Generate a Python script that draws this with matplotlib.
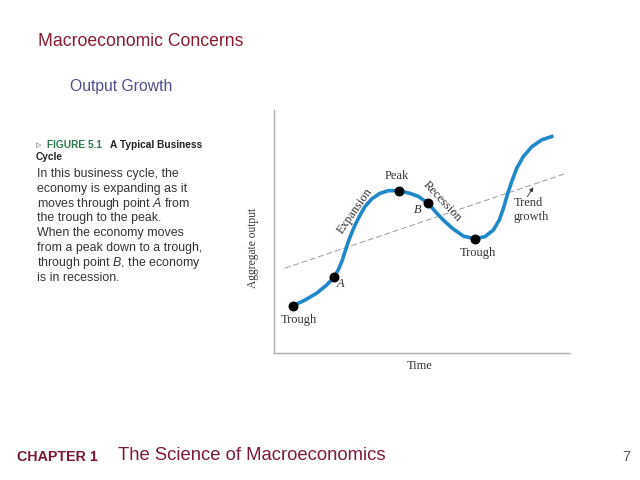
import matplotlib
matplotlib.use("Agg")
import matplotlib.pyplot as plt

plt.rcParams['mathtext.fontset'] = 'custom'
plt.rcParams['mathtext.it'] = 'Liberation Sans:italic'
plt.rcParams['mathtext.rm'] = 'Liberation Sans'

# Business cycle curve (chart units 0-100)
cycle_x = [6.5, 10.5, 14.4, 17.8, 20.3, 21.7, 22.9, 24.0, 25.1, 26.2, 27.4, 29.1, 30.7, 33.0,
           35.8, 38.6, 42.2, 45.9, 48.8, 52.1, 55.0, 57.8, 60.6, 64.0, 67.9, 71.3, 74.1,
           76.1, 77.5, 78.8, 80.3, 82.0, 84.2, 87.1, 90.4, 94.4]
cycle_y = [19.5, 21.8, 24.6, 28.0, 31.2, 34.2, 37.6, 41.7, 45.8, 49.3, 52.7, 56.8, 60.2, 63.4,
           65.7, 66.8, 66.8, 65.7, 64.4, 61.6, 57.5, 54.0, 51.0, 48.1, 47.0, 47.9, 50.6,
           54.7, 59.5, 65.0, 70.5, 76.0, 80.8, 84.9, 87.7, 89.3]

# Marked points: trough, A, peak, B, trough
point_x = [6.5, 20.3, 42.2, 52.1, 67.9]
point_y = [19.5, 31.2, 66.8, 61.6, 47.0]

# Trend growth line
trend_x = [3.7, 98.1]
trend_y = [34.9, 73.7]

body_lines = [
    "In this business cycle, the",
    "economy is expanding as it",
    "moves through point $A$ from",
    "the trough to the peak.",
    "When the economy moves",
    "from a peak down to a trough,",
    "through point $B$, the economy",
    "is in recession.",
]

W, H = 640, 480
fig = plt.figure(figsize=(6.4, 4.8), dpi=100)

def px(x, y):
    return x / W, 1 - y / H

sans = 'Liberation Sans'
serif = 'Liberation Serif'

# Slide titles
fig.text(*px(38, 41), "Macroeconomic Concerns", fontsize=12.7, color='#8b1a30',
         family=sans, va='center', ha='left')
fig.text(*px(70, 87), "Output Growth", fontsize=11.3, color='#4e4e8c',
         family=sans, va='center', ha='left')

# Figure caption header
fig.text(*px(36, 145), "\u25b9", fontsize=8, color='#888888', family='DejaVu Sans',
         va='center', ha='left')
fig.text(*px(47, 145), "FIGURE 5.1", fontsize=7.3, color='#2e7a50', family=sans,
         weight='bold', va='center', ha='left')
fig.text(*px(110, 145), "A Typical Business", fontsize=7.3, color='#222222', family=sans,
         weight='bold', va='center', ha='left')
fig.text(*px(36, 157), "Cycle", fontsize=7.3, color='#222222', family=sans,
         weight='bold', va='center', ha='left')

for i, line in enumerate(body_lines):
    fig.text(*px(37, 174 + i * 14.8), line, fontsize=8.9, color='#333333', family=sans,
             va='center', ha='left')

# Chart
ax = fig.add_axes([274 / W, 1 - 353 / H, 296 / W, 243 / H])
ax.set_xlim(0, 100)
ax.set_ylim(0, 100)
for side in ['top', 'right']:
    ax.spines[side].set_visible(False)
for side in ['left', 'bottom']:
    ax.spines[side].set_color('#b0b0b0')
    ax.spines[side].set_linewidth(1)
ax.set_xticks([])
ax.set_yticks([])
ax.patch.set_alpha(0)

ax.plot(trend_x, trend_y, color='#999999', lw=0.7, dashes=(6, 3))
ax.plot(cycle_x, cycle_y, color='#1f88c8', lw=2.6, solid_joinstyle='round',
        solid_capstyle='butt')
ax.scatter(point_x, point_y, s=38, color='black', zorder=5)

lab = dict(family=serif, fontsize=9, color='#333333', ha='center', va='center')
ax.text(8.5, 13.4, "Trough", **lab)
ax.text(69.0, 41.1, "Trough", **lab)
ax.text(41.5, 72.8, "Peak", **lab)
ax.text(22.6, 28.5, "A", style='italic', **lab)
ax.text(48.5, 58.8, "B", style='italic', **lab)
ax.text(27.4, 58.5, "Expansion", rotation=55, **lab)
ax.text(56.9, 62.3, "Recession", rotation=-47, **lab)
ax.text(80.9, 58.9, "Trend\ngrowth", family=serif, fontsize=9, color='#333333',
        ha='left', va='center', linespacing=1.15)
ax.annotate("", xy=(87.6, 68.2), xytext=(85.6, 64.3),
            arrowprops=dict(arrowstyle='-|>', color='#333333', lw=0.6,
                            mutation_scale=6, shrinkA=0, shrinkB=0))

fig.text(*px(420, 366), "Time", family=serif, fontsize=9, color='#333333',
         ha='center', va='center')
fig.text(*px(253, 248), "Aggregate output", family=serif, fontsize=8.3, color='#333333',
         ha='center', va='center', rotation=90)

# Footer
fig.text(*px(17, 457), "CHAPTER 1", fontsize=10.3, color='#7d1634', family=sans,
         weight='bold', va='center', ha='left')
fig.text(*px(118, 456), "The Science of Macroeconomics", fontsize=13.3, color='#7d1a3c',
         family=sans, va='center', ha='left')
fig.text(*px(622, 457), "7", fontsize=10.5, color='#555555', family=sans,
         va='center', ha='left')

fig.savefig("out.png", dpi=100)
